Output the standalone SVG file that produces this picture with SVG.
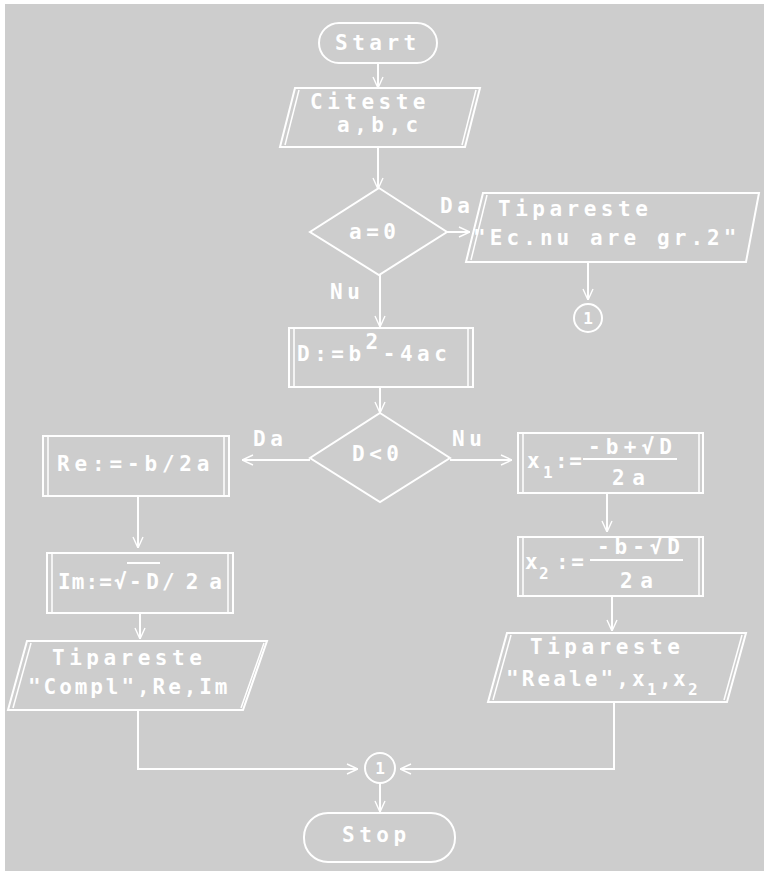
<svg xmlns="http://www.w3.org/2000/svg" width="764" height="871" viewBox="0 0 764 871">
  <style>
    .bg { fill: #cdcdcd; }
    .shape { fill: none; stroke: #ffffff; stroke-width: 2; }
    .thin { fill: none; stroke: #ffffff; stroke-width: 1.5; }
    .edge { fill: none; stroke: #ffffff; stroke-width: 2; }
    .t { fill: #ffffff; font-family: "DejaVu Sans Mono", "Liberation Mono", monospace; font-size: 21px; font-weight: bold; letter-spacing: 4.5px; }
    .n { fill: #ffffff; font-family: "DejaVu Sans Mono", "Liberation Mono", monospace; font-size: 21px; font-weight: bold; }
    .s { fill: #ffffff; font-family: "DejaVu Sans Mono", "Liberation Mono", monospace; font-size: 16px; font-weight: bold; }
    .c { fill: #ffffff; font-family: "DejaVu Sans Mono", "Liberation Mono", monospace; font-size: 16px; font-weight: bold; text-anchor: middle; }
  </style>
  <defs>
    <marker id="arrow" viewBox="0 0 12 12" refX="12" refY="6" markerWidth="12" markerHeight="12" markerUnits="userSpaceOnUse" orient="auto">
      <path d="M1,1 L12,6 L1,11" fill="none" stroke="#ffffff" stroke-width="1.4"/>
    </marker>
  </defs>

  <rect x="0" y="0" width="764" height="871" fill="#ffffff"/>
  <rect class="bg" x="5" y="4" width="759" height="867"/>

  <!-- connectors -->
  <g id="connectors">
    <line class="edge" x1="378" y1="63" x2="378" y2="88" marker-end="url(#arrow)"/>
    <line class="edge" x1="378" y1="147" x2="378" y2="189" marker-end="url(#arrow)"/>
    <line class="edge" x1="447" y1="232" x2="470" y2="232" marker-end="url(#arrow)"/>
    <line class="edge" x1="588" y1="262" x2="588" y2="300" marker-end="url(#arrow)"/>
    <line class="edge" x1="380" y1="275" x2="380" y2="327" marker-end="url(#arrow)"/>
    <line class="edge" x1="380" y1="387" x2="380" y2="413" marker-end="url(#arrow)"/>
    <line class="edge" x1="310" y1="460" x2="242" y2="460" marker-end="url(#arrow)"/>
    <line class="edge" x1="450" y1="460" x2="512" y2="460" marker-end="url(#arrow)"/>
    <line class="edge" x1="138" y1="496" x2="138" y2="548" marker-end="url(#arrow)"/>
    <line class="edge" x1="140" y1="613" x2="140" y2="639" marker-end="url(#arrow)"/>
    <line class="edge" x1="607" y1="493" x2="607" y2="532" marker-end="url(#arrow)"/>
    <line class="edge" x1="612" y1="596" x2="612" y2="631" marker-end="url(#arrow)"/>
    <polyline class="edge" points="138,710 138,769 358,769" marker-end="url(#arrow)"/>
    <polyline class="edge" points="614,702 614,769 400,769" marker-end="url(#arrow)"/>
    <line class="edge" x1="380" y1="783" x2="380" y2="812" marker-end="url(#arrow)"/>
    <text class="t" x="440" y="213">Da</text>
    <text class="t" x="330" y="299">Nu</text>
    <text class="t" x="253" y="446">Da</text>
    <text class="t" x="452" y="446">Nu</text>
  </g>

  <!-- terminal: start -->
  <g id="start">
    <rect class="shape" x="319" y="23" width="118" height="40" rx="20"/>
    <text class="t" x="335" y="50">Start</text>
  </g>

  <!-- input a, b, c -->
  <g id="read">
    <polygon class="shape" points="295,88 480,88 465,147 280,147"/>
    <line class="thin" x1="299" y1="90" x2="285" y2="145"/>
    <line class="thin" x1="476" y1="90" x2="462" y2="145"/>
    <text class="t" x="310" y="109">Citeste</text>
    <text class="t" x="337" y="132">a,b,c</text>
  </g>

  <!-- decision a = 0 -->
  <g id="test-a">
    <polygon class="shape" points="379,188 447,232 379,275 310,232"/>
    <text class="t" x="349" y="239">a=0</text>
  </g>

  <!-- message: not a second degree equation -->
  <g id="print-not-quadratic">
    <polygon class="shape" points="483,193 759,193 746,262 466,262"/>
    <line class="thin" x1="487" y1="195" x2="471" y2="260"/>
    <text class="t" x="498" y="216">Tipareste</text>
    <text class="t" x="473" y="245" textLength="268" lengthAdjust="spacing">"Ec.nu are gr.2"</text>
  </g>

  <!-- off-page connector 1 (top) -->
  <g id="conn-1-top">
    <circle class="shape" cx="588" cy="318" r="14"/>
    <text class="c" x="588" y="324">1</text>
  </g>

  <!-- discriminant -->
  <g id="delta">
    <rect class="shape" x="289" y="328" width="184" height="59"/>
    <line class="thin" x1="294" y1="329" x2="294" y2="386"/>
    <line class="thin" x1="468" y1="329" x2="468" y2="386"/>
    <text class="t" x="297" y="361">D:=b<tspan dy="-12">2</tspan><tspan dy="12">-4ac</tspan></text>
  </g>

  <!-- decision D < 0 -->
  <g id="test-d">
    <polygon class="shape" points="380,413 450,458 380,502 310,458"/>
    <text class="t" x="352" y="461">D&lt;0</text>
  </g>

  <!-- complex roots: real part -->
  <g id="re">
    <rect class="shape" x="43" y="436" width="186" height="60"/>
    <line class="thin" x1="48" y1="437" x2="48" y2="495"/>
    <line class="thin" x1="224" y1="437" x2="224" y2="495"/>
    <text class="t" x="57" y="471" textLength="157" lengthAdjust="spacing">Re:=-b/2a</text>
  </g>

  <!-- complex roots: imaginary part -->
  <g id="im">
    <rect class="shape" x="47" y="553" width="186" height="60"/>
    <line class="thin" x1="52" y1="554" x2="52" y2="612"/>
    <line class="thin" x1="228" y1="554" x2="228" y2="612"/>
    <text class="n" x="58" y="589" textLength="54" lengthAdjust="spacing">Im:=</text>
    <text class="n" x="114" y="589">√</text>
    <line class="edge" x1="127" y1="563" x2="160" y2="563"/>
    <text class="n" x="129" y="589" textLength="30" lengthAdjust="spacing">-D</text>
    <text class="n" x="162" y="589" textLength="60" lengthAdjust="spacing">/2a</text>
  </g>

  <!-- print complex roots -->
  <g id="print-complex">
    <polygon class="shape" points="27,641 267,641 243,710 8,710"/>
    <line class="thin" x1="31" y1="643" x2="13" y2="708"/>
    <line class="thin" x1="264" y1="643" x2="241" y2="708"/>
    <text class="t" x="52" y="665">Tipareste</text>
    <text class="t" x="28" y="694" textLength="204" lengthAdjust="spacing">"Compl",Re,Im</text>
  </g>

  <!-- real root x1 -->
  <g id="x1">
    <rect class="shape" x="518" y="433" width="185" height="60"/>
    <line class="thin" x1="523" y1="434" x2="523" y2="492"/>
    <line class="thin" x1="699" y1="434" x2="699" y2="492"/>
    <text class="n" x="527" y="468">x</text>
    <text class="s" x="543" y="478">1</text>
    <text class="n" x="555" y="468" textLength="27" lengthAdjust="spacing">:=</text>
    <line class="edge" x1="583" y1="459" x2="677" y2="459"/>
    <text class="n" x="588" y="454" textLength="84" lengthAdjust="spacing">-b+√D</text>
    <text class="n" x="612" y="485" textLength="33" lengthAdjust="spacing">2a</text>
  </g>

  <!-- real root x2 -->
  <g id="x2">
    <rect class="shape" x="518" y="537" width="185" height="59"/>
    <line class="thin" x1="523" y1="538" x2="523" y2="595"/>
    <line class="thin" x1="699" y1="538" x2="699" y2="595"/>
    <text class="n" x="525" y="569">x</text>
    <text class="s" x="539" y="579">2</text>
    <text class="n" x="556" y="569" textLength="28" lengthAdjust="spacing">:=</text>
    <line class="edge" x1="590" y1="560" x2="683" y2="560"/>
    <text class="n" x="597" y="554" textLength="83" lengthAdjust="spacing">-b-√D</text>
    <text class="n" x="620" y="588" textLength="33" lengthAdjust="spacing">2a</text>
  </g>

  <!-- print real roots -->
  <g id="print-real">
    <polygon class="shape" points="507,633 746,633 727,702 488,702"/>
    <line class="thin" x1="511" y1="635" x2="493" y2="700"/>
    <line class="thin" x1="742" y1="635" x2="724" y2="700"/>
    <text class="t" x="530" y="654">Tipareste</text>
    <text class="n" x="506" y="686" textLength="123" lengthAdjust="spacing">"Reale",</text>
    <text class="n" x="632" y="686">x</text>
    <text class="s" x="647" y="695">1</text>
    <text class="n" x="659" y="686">,</text>
    <text class="n" x="673" y="686">x</text>
    <text class="s" x="688" y="695">2</text>
  </g>

  <!-- connector 1 (join) -->
  <g id="conn-1-join">
    <circle class="shape" cx="380" cy="768" r="15"/>
    <text class="c" x="380" y="774">1</text>
  </g>

  <!-- terminal: stop -->
  <g id="stop">
    <rect class="shape" x="304" y="813" width="151" height="49" rx="24"/>
    <text class="t" x="342" y="842">Stop</text>
  </g>
</svg>
